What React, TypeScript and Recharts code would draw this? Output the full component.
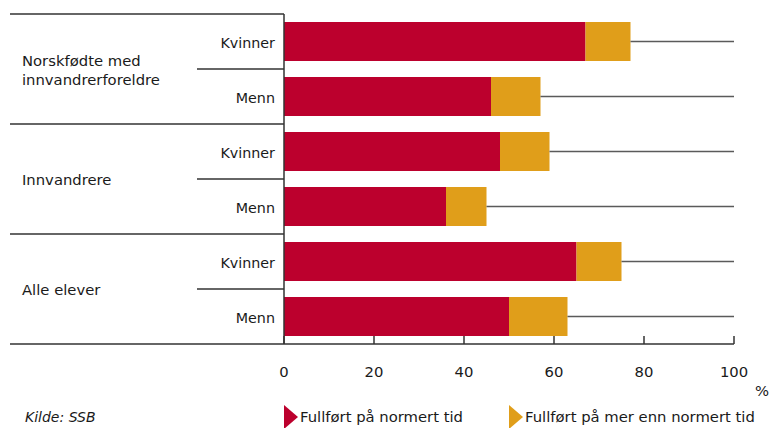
import React from 'react';
import { BarChart, Bar, XAxis, YAxis } from 'recharts';

// kategorier og verdier (prosent)
const groups = ['Norskfødte med\ninnvandrerforeldre', 'Innvandrere', 'Alle elever'];
const subs = ['Kvinner', 'Menn'];
const normertTid = [67, 46, 48, 36, 65, 50];
const merEnnNormert = [10, 11, 11, 9, 10, 13];
const xTicks = [0, 20, 40, 60, 80, 100];
const seriesNames = ['Fullført på normert tid', 'Fullført på mer enn normert tid'];
const source = 'Kilde: SSB';

const RED = '#BC002D';
const ORANGE = '#E09E1A';
const LINE = '#333333';
const TEXT = '#1a1a1a';
const FONT = '"DejaVu Sans", Verdana, sans-serif';

const W = 770;
const H = 428;
const PLOT_LEFT = 284;
const PLOT_TOP = 14;
const PLOT_BOTTOM = 344;
const ROW = (PLOT_BOTTOM - PLOT_TOP) / normertTid.length;

const data = normertTid.map((v, i) => ({
    id: `r${i}`,
    group: groups[Math.floor(i / 2)],
    sub: subs[i % 2],
    normert: v,
    mer: merEnnNormert[i],
    rest: 100 - v - merEnnNormert[i],
}));

const RestLine = (props: any) => {
    const { x, y, width, height } = props;
    const cy = y + height / 2;
    return <line x1={x} x2={x + width} y1={cy} y2={cy} stroke="#5a5a5a" strokeWidth={1.5} />;
};

const YTick = (props: any) => {
    const { x, y, index } = props;
    const row = data[index];
    if (!row) return null;
    const isFirst = index % 2 === 0;
    const isLast = index === data.length - 1;
    const lines = row.group.split('\n');
    return (
        <g>
            <text x={x - 9} y={y + 2} textAnchor="end" dominantBaseline="middle" fontSize={14.3} fill={TEXT} fontFamily={FONT}>
                {row.sub}
            </text>
            {isFirst && (
                <>
                    <line x1={10} x2={x} y1={y - ROW / 2} y2={y - ROW / 2} stroke={LINE} strokeWidth={1.5} />
                    <line x1={197} x2={x} y1={y + ROW / 2} y2={y + ROW / 2} stroke={LINE} strokeWidth={1.5} />
                    {lines.map((l: string, k: number) => (
                        <text
                            key={k}
                            x={22}
                            y={y + ROW / 2 + 2 + (k - (lines.length - 1) / 2) * 19}
                            dominantBaseline="middle"
                            fontSize={14.8}
                            fill={TEXT}
                            fontFamily={FONT}
                        >
                            {l}
                        </text>
                    ))}
                </>
            )}
            {isLast && <line x1={10} x2={x} y1={y + ROW / 2} y2={y + ROW / 2} stroke={LINE} strokeWidth={1.5} />}
        </g>
    );
};

const XTick = (props: any) => {
    const { x, payload } = props;
    return (
        <g>
            <line x1={x} x2={x} y1={PLOT_BOTTOM - 8} y2={PLOT_BOTTOM} stroke={LINE} strokeWidth={1.5} />
            <text x={x} y={PLOT_BOTTOM + 29} textAnchor="middle" dominantBaseline="middle" fontSize={14.8} fill={TEXT} fontFamily={FONT}>
                {payload.value}
            </text>
        </g>
    );
};

const App = () => {
    return (
        <div style={{ position: 'absolute', left: 0, top: 0, width: W, height: H, background: 'white' }}>
            <BarChart
                width={W}
                height={H}
                data={data}
                layout="vertical"
                margin={{ top: PLOT_TOP, right: W - 734, bottom: 54, left: 10 }}
                barCategoryGap={8}
            >
                <XAxis
                    type="number"
                    domain={[0, 100]}
                    ticks={xTicks}
                    height={30}
                    tickSize={0}
                    tickMargin={0}
                    tickLine={false}
                    axisLine={{ stroke: LINE, strokeWidth: 1.5 }}
                    tick={<XTick />}
                    interval={0}
                />
                <YAxis
                    type="category"
                    dataKey="id"
                    width={PLOT_LEFT - 10}
                    tickSize={0}
                    tickMargin={0}
                    tickLine={false}
                    axisLine={{ stroke: LINE, strokeWidth: 1.5 }}
                    tick={<YTick />}
                    interval={0}
                />
                <Bar dataKey="normert" stackId="a" fill={RED} isAnimationActive={false} name={seriesNames[0]} />
                <Bar dataKey="mer" stackId="a" fill={ORANGE} isAnimationActive={false} name={seriesNames[1]} />
                <Bar dataKey="rest" stackId="a" fill="none" shape={<RestLine />} isAnimationActive={false} legendType="none" />
            </BarChart>
            <svg width={W} height={H} style={{ position: 'absolute', left: 0, top: 0, pointerEvents: 'none' }}>
                <text x={762} y={392} textAnchor="middle" dominantBaseline="middle" fontSize={14.8} fill={TEXT} fontFamily={FONT}>%</text>
                <text x={25} y={418} dominantBaseline="middle" fontSize={14} fontStyle="italic" fill={TEXT} fontFamily={FONT}>{source}</text>
                <polygon points="284,405 298,417 284,429" fill={RED} />
                <text x={300} y={418} dominantBaseline="middle" fontSize={14.8} fill={TEXT} fontFamily={FONT}>{seriesNames[0]}</text>
                <polygon points="509,405 523,417 509,429" fill={ORANGE} />
                <text x={525} y={418} dominantBaseline="middle" fontSize={14.8} fill={TEXT} fontFamily={FONT}>{seriesNames[1]}</text>
            </svg>
        </div>
    );
};

export default App;
